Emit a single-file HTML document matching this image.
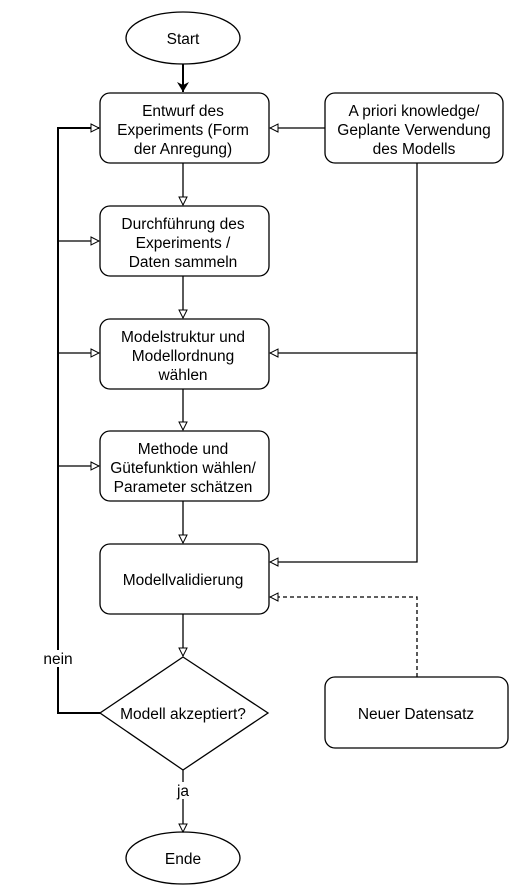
<!DOCTYPE html>
<html><head><meta charset="utf-8"><style>html,body{margin:0;padding:0;background:#fff}svg{display:block}text{font-family:"Liberation Sans",Arial,sans-serif;font-size:15.5px;fill:#000}</style></head>
<body>
<svg width="528" height="896" viewBox="0 0 528 896" xmlns="http://www.w3.org/2000/svg">
<defs>
<marker id="o" markerWidth="10" markerHeight="10" refX="9" refY="5" orient="auto" markerUnits="userSpaceOnUse"><path d="M1,1 L9,5 L1,9 Z" fill="#fff" stroke="#000" stroke-width="1"/></marker>
<marker id="f" markerWidth="12" markerHeight="12" refX="10" refY="6" orient="auto" markerUnits="userSpaceOnUse"><path d="M0,0 L10,6 L0,12 L3,6 Z" fill="#000"/></marker>
</defs>
<g fill="#fff" stroke="#000" stroke-width="1.3">
<ellipse cx="183" cy="38" rx="57" ry="26"/>
<rect x="100" y="93" width="169" height="70" rx="10"/>
<rect x="325" y="93" width="178" height="70" rx="10"/>
<rect x="100" y="206" width="169" height="70" rx="10"/>
<rect x="100" y="319" width="169" height="70" rx="10"/>
<rect x="100" y="431" width="169" height="70" rx="10"/>
<rect x="100" y="544" width="169" height="70" rx="10"/>
<path d="M183,657 L268,713 L183,770 L100,713 Z"/>
<ellipse cx="183" cy="858" rx="57" ry="26"/>
<rect x="325" y="677" width="183" height="71" rx="10"/>
</g>
<g fill="none" stroke="#000" stroke-width="1.3">
<path d="M183,64 L183,92" stroke-width="2" marker-end="url(#f)"/>
<path d="M183,163 L183,205" marker-end="url(#o)"/>
<path d="M183,276 L183,318" marker-end="url(#o)"/>
<path d="M183,389 L183,430" marker-end="url(#o)"/>
<path d="M183,501 L183,543" marker-end="url(#o)"/>
<path d="M183,614 L183,656" marker-end="url(#o)"/>
<path d="M183,770 L183,832" marker-end="url(#o)"/>
<path d="M325,128 L270,128" marker-end="url(#o)"/>
<path d="M417,163 L417,562 L270,562" marker-end="url(#o)"/>
<path d="M417,353 L270,353" marker-end="url(#o)"/>
<path d="M417,677 L417,597 L270,597" stroke-dasharray="4,3" marker-end="url(#o)"/>
<path d="M100,713 L58,713 L58,128 L99,128" stroke-width="2" marker-end="url(#o)"/>
<path d="M58,241 L99,241" marker-end="url(#o)"/>
<path d="M58,353 L99,353" marker-end="url(#o)"/>
<path d="M58,466 L99,466" marker-end="url(#o)"/>
</g>
<rect x="40" y="650" width="36" height="17" fill="#fff"/>
<rect x="174" y="782" width="18" height="17" fill="#fff"/>
<g text-anchor="middle">
<text x="183" y="116">Entwurf des</text><text x="183" y="135">Experiments (Form</text><text x="183" y="154">der Anregung)</text>
<text x="183" y="44">Start</text>
<text x="414" y="116">A priori knowledge/</text><text x="414" y="135">Geplante Verwendung</text><text x="414" y="154">des Modells</text>
<text x="183" y="229">Durchführung des</text><text x="183" y="248">Experiments /</text><text x="183" y="267">Daten sammeln</text>
<text x="183" y="342">Modelstruktur und</text><text x="183" y="361">Modellordnung</text><text x="183" y="380">wählen</text>
<text x="183" y="454">Methode und</text><text x="183" y="473">Gütefunktion wählen/</text><text x="183" y="492">Parameter schätzen</text>
<text x="183" y="585">Modellvalidierung</text>
<text x="183" y="719">Modell akzeptiert?</text>
<text x="416" y="719">Neuer Datensatz</text>
<text x="183" y="864">Ende</text>
<text x="58" y="664">nein</text>
<text x="183" y="796">ja</text>
</g>
</svg>
</body></html>
